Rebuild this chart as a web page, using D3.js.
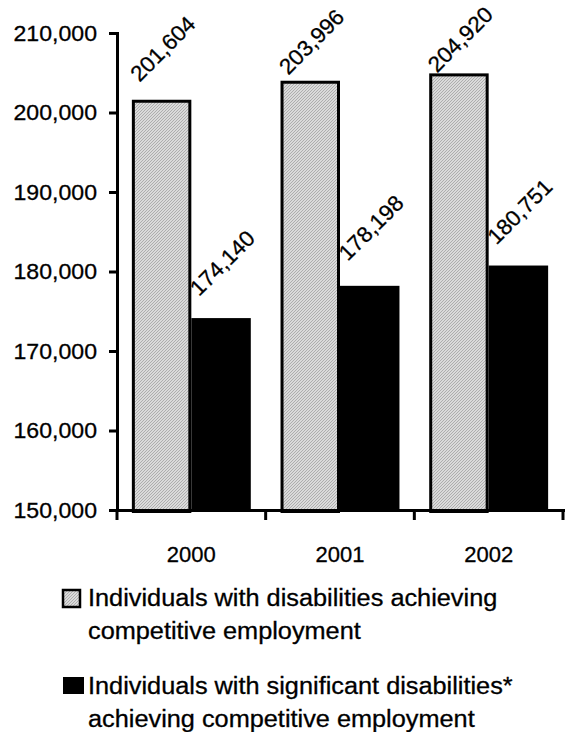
<!DOCTYPE html>
<html><head><meta charset="utf-8">
<script src="https://cdn.jsdelivr.net/npm/d3@7"></script>
<style>
body{margin:0;background:#fff}
svg{display:block}
text{font-family:"Liberation Sans",Arial,sans-serif;fill:#000;stroke:#000;stroke-width:0.3}
</style>
</head><body>
<svg id="c" width="566" height="732"></svg>
<script>
// ---- data ----
const years = ["2000", "2001", "2002"];
const allDisabilities = [201604, 203996, 204920];
const significantDisabilities = [174140, 178198, 180751];
const yTicks = [150000, 160000, 170000, 180000, 190000, 200000, 210000];
const legendLines = [
  ["Individuals with disabilities achieving", "competitive employment"],
  ["Individuals with significant disabilities*", "achieving competitive employment"]
];
// ---- layout tweaks (label lift above bar, px) ----
const labelLift = [[17, 5, 0], [21, 24, 20]];

const svg = d3.select("#c");
const defs = svg.append("defs");
const pat = defs.append("pattern").attr("id", "hatch").attr("width", 3).attr("height", 3)
  .attr("patternUnits", "userSpaceOnUse");
pat.append("rect").attr("width", 3).attr("height", 3).attr("fill", "#dadada");
pat.append("path").attr("d", "M0,3L3,0M-1,1L1,-1M2,4L4,2").attr("stroke", "#9e9e9e").attr("stroke-width", 0.75);

const y = d3.scaleLinear().domain([150000, 210000]).range([510, 33]);
const x = d3.scaleBand().domain(years).range([117, 563]).padding(0);
const xs = d3.scaleBand().domain([0, 1]).range([0, x.bandwidth()]).paddingInner(0).paddingOuter(0.25);

const series = [allDisabilities, significantDisabilities];
const fills = ["url(#hatch)", "#000"];
const SW = 3;

series.forEach((vals, si) => {
  svg.append("g").selectAll("rect").data(vals).join("rect")
    .attr("x", (d, i) => x(years[i]) + xs(si) + (si === 0 ? SW / 2 : 0))
    .attr("width", xs.bandwidth() - (si === 0 ? SW : 0))
    .attr("y", d => y(d) + (si === 0 ? SW / 2 : 0))
    .attr("height", d => y(150000) - y(d))
    .attr("fill", fills[si])
    .attr("stroke", si === 0 ? "#000" : "none")
    .attr("stroke-width", SW);
});

// value labels
series.forEach((vals, si) => {
  svg.append("g").selectAll("text").data(vals).join("text")
    .attr("transform", (d, i) => {
      const cx = x(years[i]) + xs(si) + xs.bandwidth() / 2;
      return `translate(${cx - 22},${y(d) - labelLift[si][i]}) rotate(-45)`;
    })
    .attr("font-size", 22)
    .attr("data-stretch", 1.02)
    .text(d => d3.format(",")(d));
});

// y axis
const ya = svg.append("g").attr("transform", "translate(117,0)")
  .call(d3.axisLeft(y).tickValues(yTicks).tickFormat(d3.format(",")).tickSize(8).tickSizeOuter(0).tickPadding(12));
ya.selectAll("text").attr("font-size", 22).attr("data-stretch", 1.05);
ya.select(".domain").attr("stroke-width", SW).attr("stroke-linecap", "square");
ya.selectAll(".tick line").attr("stroke-width", SW);

// x axis
const xa = svg.append("g").attr("transform", "translate(0,510)")
  .call(d3.axisBottom(x).tickSize(0).tickSizeOuter(0).tickPadding(36));
xa.selectAll("text").attr("font-size", 22).attr("data-stretch", 1.0);
xa.select(".domain").attr("stroke-width", SW).attr("stroke-linecap", "square");
const bounds = years.map(d => x(d)).concat([x.range()[1]]);
xa.append("g").selectAll("line").data(bounds).join("line")
  .attr("x1", d => d).attr("x2", d => d).attr("y1", 0).attr("y2", 10)
  .attr("stroke", "#000").attr("stroke-width", SW);

// legend
const lg = svg.append("g");
const legY = [589, 677];
legendLines.forEach((lines, li) => {
  const g = lg.append("g").attr("transform", `translate(0,${legY[li]})`);
  if (li === 0) {
    g.append("rect").attr("x", 63).attr("y", 1).attr("width", 17).attr("height", 17)
      .attr("fill", "url(#hatch)").attr("stroke", "#000").attr("stroke-width", 2.5);
  } else {
    g.append("rect").attr("x", 63).attr("y", 0).attr("width", 21).attr("height", 17).attr("fill", "#000");
  }
  g.selectAll("text").data(lines).join("text")
    .attr("x", 88).attr("y", (d, j) => 17 + j * 33)
    .attr("font-size", 23)
    .attr("data-stretch", 1.1)
    .text(d => d);
});

// horizontal stretch of text to match the reference typeface width
svg.selectAll("text").each(function () {
  const s = +(this.getAttribute("data-stretch") || 1);
  if (s === 1) return;
  const L = this.getComputedTextLength();
  this.setAttribute("textLength", (L * s).toFixed(1));
  this.setAttribute("lengthAdjust", "spacingAndGlyphs");
});
</script>
</body></html>
